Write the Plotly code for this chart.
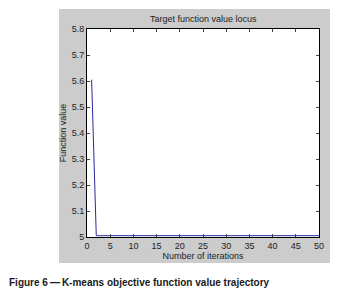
import plotly.graph_objects as go

iterations = list(range(1, 51))
values = [5.605] + [5.005] * 49
x_ticks = list(range(0, 51, 5))
y_ticks = [5.0, 5.1, 5.2, 5.3, 5.4, 5.5, 5.6, 5.7, 5.8]
y_tick_labels = ["5", "5.1", "5.2", "5.3", "5.4", "5.5", "5.6", "5.7", "5.8"]

OFF = 8  # page body margin
W, H = 339 - OFF, 295 - OFF
L, R, T, B = 87 - OFF, 319 - OFF, 29 - OFF, 237 - OFF
pw, ph = R - L, B - T

def px(x):
    return (x - OFF - L) / pw

def py(y):
    return (B - (y - OFF)) / ph

fig = go.Figure()
fig.add_trace(go.Scatter(x=iterations, y=values, mode="lines",
                         line=dict(color="#2a2aa0", width=1), showlegend=False))

axis_font = dict(family="Arial, Liberation Sans, sans-serif", size=9, color="#222")
fig.update_layout(
    width=W, height=H,
    margin=dict(l=L, r=W - R, t=T, b=H - B),
    paper_bgcolor="white", plot_bgcolor="white",
    font=axis_font,
    xaxis=dict(range=[0, 50], tickvals=x_ticks, ticks="inside", ticklen=3,
               showline=True, linecolor="black", linewidth=1, mirror="ticks",
               showgrid=False, zeroline=False, tickfont=axis_font,
               title=dict(text="Number of iterations", font=axis_font, standoff=2)),
    yaxis=dict(range=[5.0, 5.8], tickvals=y_ticks, ticktext=y_tick_labels,
               ticks="inside", ticklen=3,
               showline=True, linecolor="black", linewidth=1, mirror="ticks",
               showgrid=False, zeroline=False, tickfont=axis_font,
               title=dict(text="Function value", font=axis_font, standoff=3)),
    shapes=[
        dict(type="rect", xref="paper", yref="paper",
             x0=px(59), x1=px(330), y0=py(263), y1=py(9),
             fillcolor="#cccccc", line=dict(width=0), layer="below"),
        dict(type="rect", xref="paper", yref="paper",
             x0=0, x1=1, y0=0, y1=1,
             fillcolor="white", line=dict(width=0), layer="below"),
    ],
    annotations=[
        dict(text="Target function value locus", xref="paper", yref="paper",
             x=0.5, y=py(19), xanchor="center", yanchor="middle",
             showarrow=False, font=axis_font),
        dict(text="<b>Figure 6\u2009\u2014\u2009K-means objective function value trajectory</b>",
             xref="paper", yref="paper", x=px(7), y=py(282),
             xanchor="left", yanchor="middle", showarrow=False,
             font=dict(family="Arial, Liberation Sans, sans-serif", size=10, color="#1a1a1a")),
    ],
)

fig.write_html("out.html")
